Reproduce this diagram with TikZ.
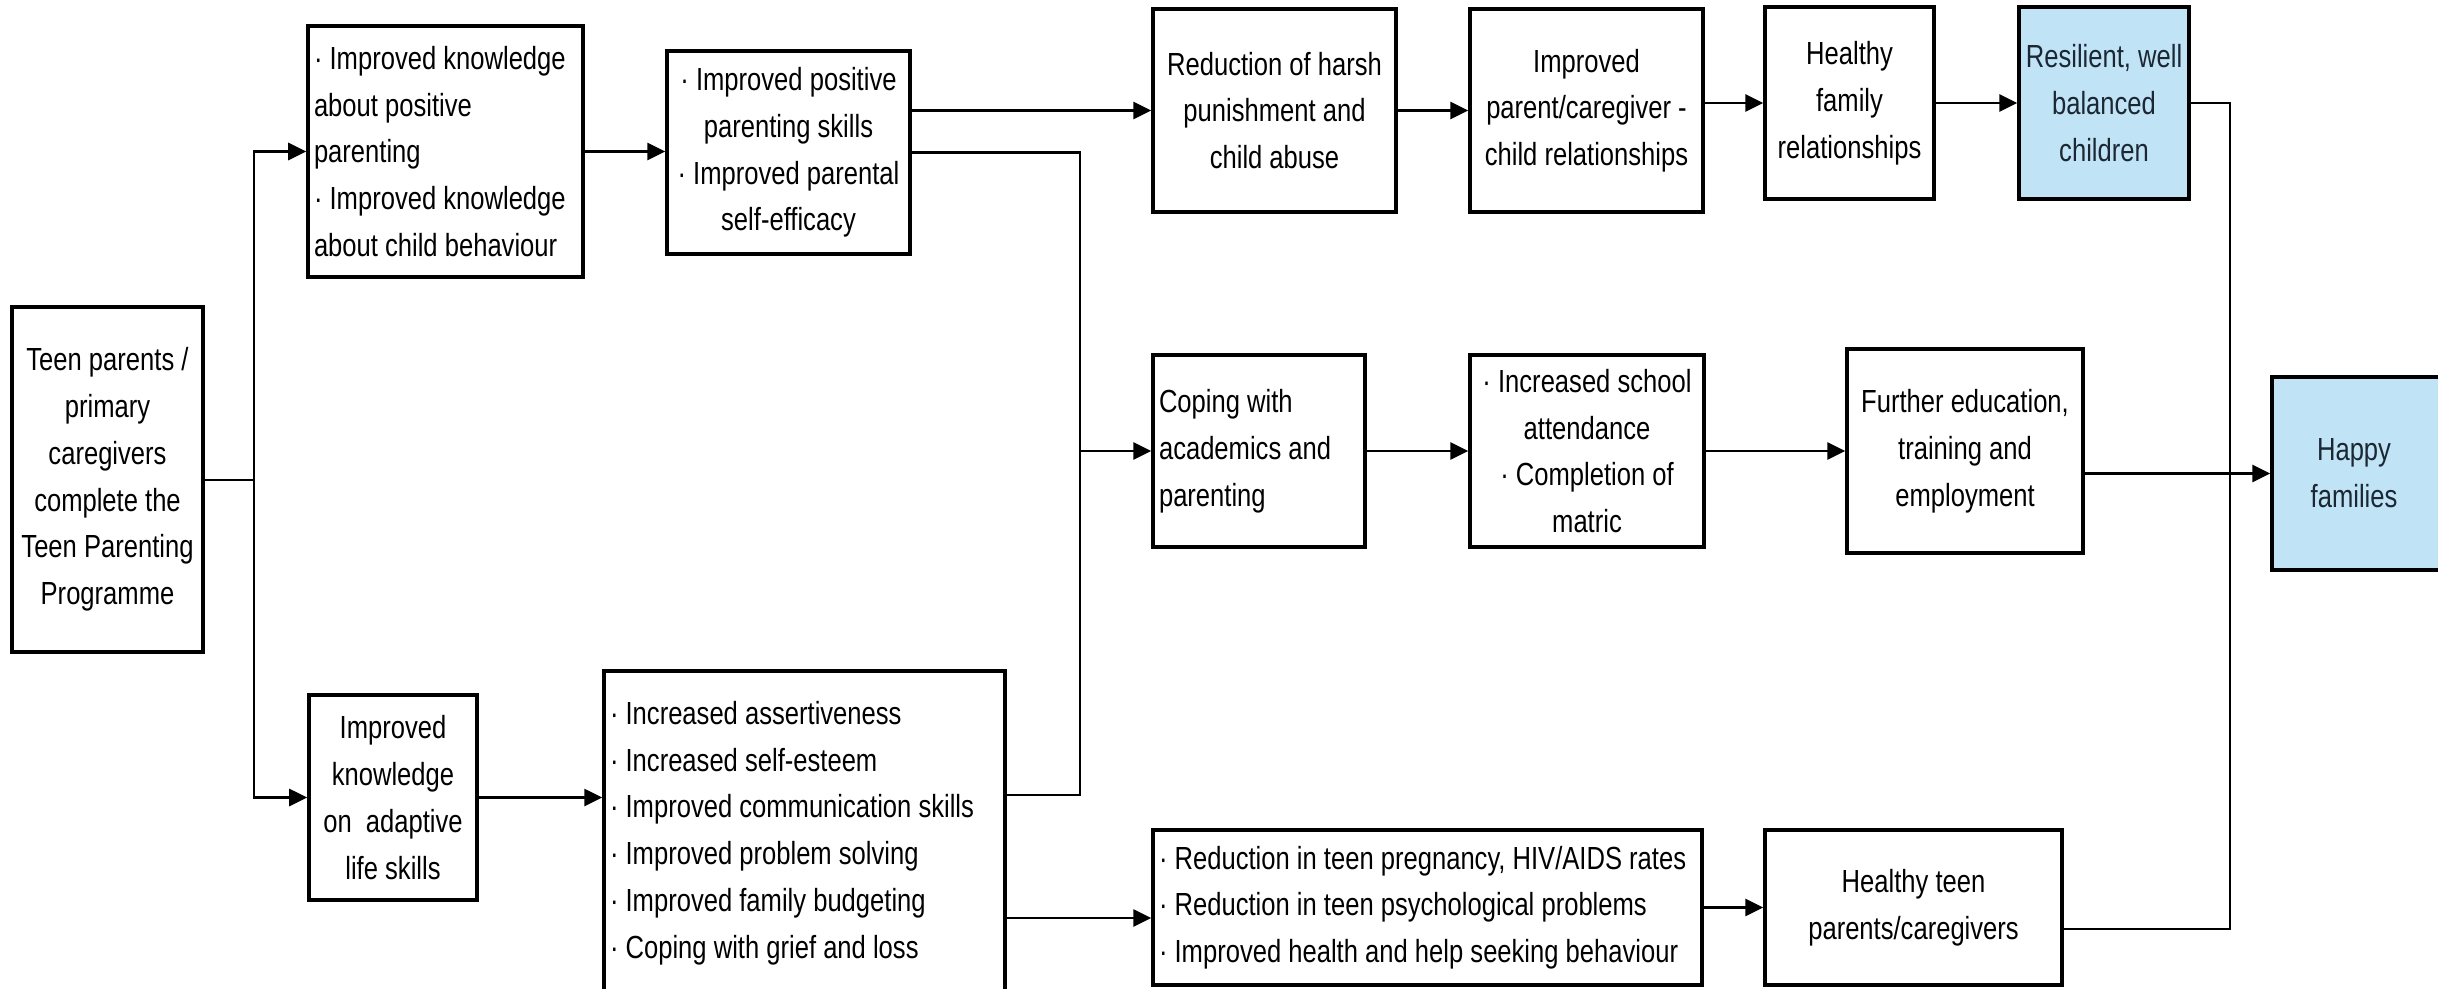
\documentclass[tikz,border=0pt]{standalone}
\usepackage{fontspec}
\usepackage{xcolor}
\usetikzlibrary{arrows.meta,calc,positioning}
\setmainfont[FakeStretch=0.8]{Liberation Sans}

\definecolor{goalblue}{HTML}{C1E3F6}
\definecolor{goalink}{HTML}{1B2833}

\tikzset{
	box/.style={draw, line width=1pt, inner sep=0pt, align=center,
		font=\fontsize{9.1pt}{13.3pt}\selectfont},
	lbox/.style={box, align=flush left, inner xsep=0.6mm},
	goal/.style={box, fill=goalblue, text=goalink},
	arr/.style={line width=0.8pt, -{Triangle[length=1.8mm,width=1.7mm]}},
	link/.style={line width=0.8pt}
}

\begin{document}
	\begin{tikzpicture}[x=0.1mm, y=-0.1mm]
		\useasboundingbox (0,0) rectangle (2438,988);
		\clip (0,0) rectangle (2438,988);

		\node[box, minimum width=19.1mm, minimum height=34.5mm] (teen) at (107.5,479.5)
			{Teen parents /\\ primary\\ caregivers\\ complete the\\ Teen Parenting\\ Programme};

		\node[lbox, text width=26.3mm, minimum height=25.1mm] (know) at (445.5,151.5)
			{· Improved knowledge\\ about positive\\ parenting\\ · Improved knowledge\\ about child behaviour};
		\node[box, minimum width=24.3mm, minimum height=20.3mm] (pos) at (788.5,152.5)
			{· Improved positive\\ parenting skills\\ · Improved parental\\ self-efficacy};

		\node[box, minimum width=16.8mm, minimum height=20.5mm] (adapt) at (393,797.5)
			{Improved\\ knowledge\\ on\ \ adaptive\\ life skills};
		\node[lbox, text width=38.9mm, minimum height=32.4mm] (life) at (804.5,833)
			{· Increased assertiveness\\ · Increased self-esteem\\ · Improved communication skills\\ · Improved problem solving\\ · Improved family budgeting\\ · Coping with grief and loss};

		\node[box, minimum width=24.3mm, minimum height=20.3mm] (harsh) at (1274.5,110.5)
			{Reduction of harsh\\ punishment and\\ child abuse};
		\node[box, minimum width=23.3mm, minimum height=20.3mm] (relat) at (1586.5,110.5)
			{Improved\\ parent/caregiver -\\ child relationships};
		\node[box, minimum width=16.9mm, minimum height=19.2mm] (family) at (1849.5,103)
			{Healthy\\ family\\ relationships};
		\node[goal, minimum width=17mm, minimum height=19.2mm] (resil) at (2104,103)
			{Resilient, well\\ balanced\\ children};

		\node[lbox, text width=20mm, minimum height=19.2mm] (coping) at (1259,451)
			{Coping with\\ academics and\\ parenting};
		\node[box, minimum width=23.4mm, minimum height=19.2mm] (school) at (1587,451)
			{· Increased school\\ attendance\\ · Completion of\\ matric};
		\node[box, minimum width=23.6mm, minimum height=20.4mm] (further) at (1965,451)
			{Further education,\\ training and\\ employment};
		\node[goal, minimum width=18mm, minimum height=19.3mm] (happy) at (2362,473.5)
			{\hspace*{-1.6mm}Happy\\ \hspace*{-1.6mm}families};

		\node[lbox, text width=53.7mm, minimum height=15.5mm] (health) at (1427.5,907.5)
			{· Reduction in teen pregnancy, HIV/AIDS rates\\ · Reduction in teen psychological problems\\ · Improved health and help seeking behaviour};
		\node[box, minimum width=29.7mm, minimum height=15.5mm] (teenh) at (1913.5,907.5)
			{Healthy teen\\ parents/caregivers};

		% branch points
		\coordinate (split) at (254,480);
		\coordinate (join) at (1080,451);
		\coordinate (rail) at (2230,929);

		\draw[link] (teen.east |- split) -- (split);
		\draw[arr] (split) |- (know.west);
		\draw[arr] (split) |- (adapt.west);
		\draw[arr] (know.east) -- (know.east -| pos.west);
		\draw[arr] (adapt.east) -- (adapt.east -| life.west);

		\draw[arr] (pos.east |- harsh.west) -- (harsh.west);
		\draw[link] (pos.east) -| (join);
		\draw[link] ([yshift=3.8mm]life.east) -| (join);
		\draw[arr] (join) -- (coping.west);
		\draw[arr] ([yshift=-1.05mm]life.east |- health.west) -- ([yshift=-1.05mm]health.west);

		\draw[arr] (harsh.east) -- (harsh.east -| relat.west);
		\draw[arr] (relat.east |- family.west) -- (family.west);
		\draw[arr] (family.east) -- (resil.west);

		\draw[arr] (coping.east) -- (school.west);
		\draw[arr] (school.east) -- (further.west);
		\draw[arr] (further.east |- happy.west) -- (happy.west);

		\draw[arr] (health.east) -- (teenh.west);
		\draw[link] (resil.east) -| (rail) -- (rail -| teenh.east);
	\end{tikzpicture}
\end{document}
